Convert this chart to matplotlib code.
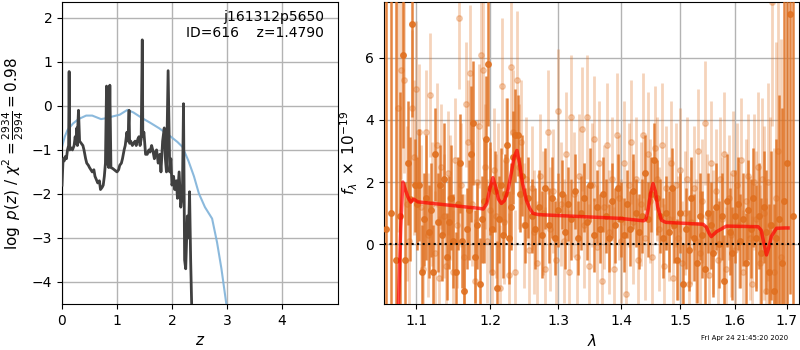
import numpy as np
import matplotlib
matplotlib.use("Agg")
import matplotlib.pyplot as plt
from matplotlib.ticker import FixedLocator, FixedFormatter, NullLocator

# ---------------- left panel data ----------------
pz_z = [0.00, 0.01, 0.02, 0.04, 0.06, 0.08, 0.10, 0.12, 0.13, 0.14, 0.16, 0.19, 0.22, 0.24, 0.25, 0.27, 0.28,
        0.29, 0.30, 0.32, 0.35, 0.38, 0.40, 0.43, 0.45, 0.48, 0.50, 0.55, 0.58, 0.60, 0.65, 0.68, 0.70, 0.73,
        0.75, 0.77, 0.79, 0.81, 0.83, 0.85, 0.87, 0.89, 0.92, 0.95, 1.00, 1.03, 1.05, 1.08, 1.10, 1.13,
        1.15, 1.18, 1.20, 1.22, 1.23, 1.25, 1.28, 1.30, 1.33, 1.35, 1.38, 1.40, 1.42, 1.44, 1.46, 1.47,
        1.49, 1.52, 1.55, 1.58, 1.60, 1.63, 1.65, 1.68, 1.70, 1.72, 1.75, 1.78, 1.80, 1.83, 1.86, 1.88,
        1.90, 1.93, 1.96, 1.98, 2.00, 2.03, 2.05, 2.08, 2.10, 2.13, 2.16, 2.19, 2.21, 2.23, 2.25, 2.28,
        2.30, 2.32, 2.34, 2.36, 2.38]
pz_logp = [-1.8, -1.5, -1.2, -1.25, -1.15, -1.2, -1.0, -0.9, 0.78, -1.0, -0.95, -1.0, -0.9, -0.7, -0.85, -0.5, -0.9,
           -0.4, -0.1, -0.8, -0.85, -0.9, -1.0, -1.2, -1.3, -1.35, -1.4, -1.5, -1.45, -1.6, -1.75, -1.7, -1.9, -1.85,
           -1.8, -1.6, -1.3, 0.45, -1.3, -1.4, 0.47, -1.4, -1.42, -1.45, -1.5, -1.45, -1.35, -1.3, -1.2, -1.0,
           -0.9, -0.6, -0.8, -0.1, -0.85, -0.8, -0.9, -0.85, -0.8, -0.9, -0.75, -0.7, -0.9, -0.75, 1.5, -0.7,
           -0.6, -1.1, -1.1, -1.0, -1.05, -0.9, -1.0, -1.2, -1.05, -1.0, -1.3, -1.1, -1.5, -0.8, -0.5, -1.2,
           -1.5, 0.8, -1.5, -1.2, -1.8, -1.6, -1.9, -1.7, -2.1, -1.5, -2.3, -2.0, 0.05, -3.5, -3.7, -2.5,
           -3.0, -1.95, -3.5, -4.6, -5.0]
prior_z = [0.00, 0.05, 0.10, 0.20, 0.30, 0.44, 0.55, 0.71, 0.80, 0.92, 1.05, 1.19, 1.30, 1.46, 1.60,
           1.77, 1.98, 2.10, 2.19, 2.30, 2.40, 2.49, 2.60, 2.73, 2.82, 2.90, 3.00]
prior_logp = [-0.93, -0.7, -0.55, -0.4, -0.3, -0.22, -0.22, -0.3, -0.28, -0.24, -0.2, -0.09, -0.15, -0.28, -0.38,
              -0.51, -0.70, -0.82, -0.93, -1.25, -1.6, -1.99, -2.3, -2.56, -3.1, -3.7, -4.6]

# ---------------- right panel data ----------------
dark_wave = [1.062, 1.068, 1.074, 1.079, 1.083, 1.086, 1.089, 1.092, 1.095, 1.098, 1.101, 1.104, 1.107, 1.110,
             1.113, 1.116, 1.119, 1.122, 1.125, 1.128, 1.131, 1.134, 1.137, 1.140, 1.143, 1.146, 1.149, 1.152,
             1.155, 1.158, 1.161, 1.164, 1.167, 1.170, 1.173, 1.176, 1.179, 1.182, 1.185, 1.188, 1.191, 1.194,
             1.197, 1.200, 1.203, 1.206, 1.209, 1.212, 1.215, 1.218, 1.221, 1.224, 1.227, 1.230, 1.233, 1.236,
             1.239, 1.242, 1.245, 1.250, 1.255, 1.260, 1.265, 1.270, 1.275, 1.280, 1.285, 1.290, 1.295, 1.300,
             1.305, 1.310, 1.315, 1.320, 1.325, 1.330, 1.335, 1.340, 1.345, 1.350, 1.355, 1.360, 1.365, 1.370,
             1.375, 1.380, 1.385, 1.390, 1.395, 1.400, 1.405, 1.410, 1.415, 1.420, 1.425, 1.430, 1.435, 1.440,
             1.445, 1.450, 1.455, 1.460, 1.465, 1.470, 1.475, 1.480, 1.485, 1.490, 1.495, 1.500, 1.505, 1.510,
             1.515, 1.520, 1.525, 1.530, 1.535, 1.540, 1.545, 1.550, 1.555, 1.560, 1.565, 1.570, 1.575, 1.580,
             1.585, 1.590, 1.595, 1.600, 1.605, 1.610, 1.615, 1.620, 1.625, 1.630, 1.635, 1.640, 1.645, 1.650,
             1.655, 1.660, 1.665, 1.670, 1.675, 1.680, 1.685, 1.690, 1.695, 1.700, 1.706, 1.712]
dark_flux = [0.5, 1.0, -0.5, 0.9, 6.1, -0.5, 2.6, 1.45, 7.1, 1.9, 1.3, 1.9, -0.9, 0.8,
             1.5, 0.4, 1.1, -0.9, 2.9, 0.7, 1.9, 0.3, 2.1, -0.4, 0.7, 1.5, 0.1, -0.9,
             1.3, 2.6, 0.1, -1.5, 0.5, 1.1, 2.9, 3.9, -0.4, 0.6, -1.3, 0.8, 1.4, 3.4,
             5.8, 1.8, 0.5, 1.7, -1.4, 0.8, 1.9, 0.3, 1.6, 3.2, 0.2, 1.2, 2.8, 3.5,
             3.5, 1.6, 2.2, 0.6, 1.5, 0.9, 0.5, 1.2, 0.3, 1.8, 0.6, 1.5, 0.2, 1.1,
             1.6, 0.4, 1.3, 0.8, 1.7, 0.2, 1.0, 1.5, 0.7, 1.9, 0.3, 1.2, 0.5, 1.6,
             0.9, 0.2, 1.4, 0.6, 1.8, 0.8, 0.3, 1.3, 0.5, 1.7, 1.0, 0.4, 0.9, 2.3,
             0.8, 1.6, 2.7, 1.5, 0.9, 0.2, 1.0, 0.4, 1.8, 0.6, -0.5, 1.0, -1.3, 0.5,
             -0.2, 1.5, 0.2, -0.6, 0.9, 0.3, -0.8, 1.0, 0.6, -0.3, 1.2, 0.0, 0.9, -1.2,
             1.4, 0.4, -0.3, 0.9, 1.3, 0.1, 0.8, -0.6, 1.1, 0.5, 1.5, 0.2, 0.9, -0.3,
             1.2, 0.4, -0.9, 0.6, -1.5, 0.2, 0.8, -0.6, 1.4, 2.6, 7.4, 0.9]
dark_err = [9, 9, 9, 4, 3, 2.5, 2, 2, 3, 1.5, 1.5, 1.8, 1.5, 1.5,
            2, 1.5, 1.5, 1.5, 1.5, 1.6, 1.3, 1.5, 1.8, 1.4, 1.5, 1.7, 1.5, 1.3,
            1.5, 1.6, 1.5, 1.5, 1.3, 1.6, 2.2, 2, 1.5, 1.4, 1.5, 1.4, 2, 2,
            2, 1.5, 1.5, 1.3, 1.5, 1.4, 1.2, 1.4, 1.3, 1.5, 1.5, 1.4, 1.5, 1.5,
            1.3, 1.2, 1.3, 1.2, 1.3, 1.2, 1.3, 1.2, 1.4, 1.3, 1.2, 1.3, 1.2, 1.2,
            1.1, 1.2, 1.2, 1.3, 1.2, 1.2, 1.2, 1.1, 1.2, 1.2, 1.2, 1.2, 1.1, 1.2,
            1.2, 1.1, 1.2, 1.2, 1.1, 1.2, 1.2, 1.1, 1.2, 1.2, 1.1, 1.2, 1.2, 1.2,
            1.2, 1.2, 1.2, 1.2, 1.2, 1.3, 1.2, 1.3, 1.3, 1.2, 1.3, 1.3, 1.3, 1.3,
            1.3, 1.3, 1.4, 1.3, 1.4, 1.4, 1.4, 1.3, 1.4, 1.4, 1.4, 1.4, 1.4, 1.5,
            1.5, 1.4, 1.5, 1.5, 1.5, 1.5, 1.5, 1.6, 1.6, 1.6, 1.6, 1.7, 1.7, 1.8,
            1.8, 2.0, 2.2, 2.4, 2.8, 3.2, 4, 5, 7, 9, 9, 9]

light_wave = [1.076, 1.080, 1.084, 1.088, 1.091, 1.094, 1.097, 1.100, 1.103, 1.106, 1.109, 1.112, 1.115, 1.118,
              1.121, 1.124, 1.127, 1.130, 1.133, 1.136, 1.139, 1.142, 1.145, 1.148, 1.151, 1.154, 1.157, 1.160,
              1.163, 1.166, 1.169, 1.172, 1.175, 1.178, 1.181, 1.184, 1.187, 1.190, 1.193, 1.196, 1.199, 1.202,
              1.205, 1.208, 1.211, 1.214, 1.217, 1.220, 1.223, 1.226, 1.229, 1.232, 1.235, 1.238, 1.241, 1.244,
              1.248, 1.252, 1.256, 1.260, 1.264, 1.268, 1.272, 1.276, 1.280, 1.284, 1.288, 1.292, 1.296, 1.300,
              1.304, 1.308, 1.312, 1.316, 1.320, 1.324, 1.328, 1.332, 1.336, 1.340, 1.344, 1.348, 1.352, 1.356,
              1.360, 1.364, 1.368, 1.372, 1.376, 1.380, 1.384, 1.388, 1.392, 1.396, 1.400, 1.404, 1.408, 1.412,
              1.416, 1.420, 1.424, 1.428, 1.432, 1.436, 1.440, 1.444, 1.448, 1.452, 1.456, 1.460, 1.464, 1.468,
              1.472, 1.476, 1.480, 1.484, 1.488, 1.492, 1.496, 1.500, 1.504, 1.508, 1.512, 1.516, 1.520, 1.524,
              1.528, 1.532, 1.536, 1.540, 1.544, 1.548, 1.552, 1.556, 1.560, 1.564, 1.568, 1.572, 1.576, 1.580,
              1.584, 1.588, 1.592, 1.596, 1.600, 1.604, 1.608, 1.612, 1.616, 1.620, 1.624, 1.628, 1.632, 1.636,
              1.640, 1.644, 1.648, 1.652, 1.656, 1.660, 1.664, 1.668, 1.672, 1.676, 1.680, 1.684, 1.688]
light_flux = [4.4, 5.6, 5.3, 1.3, 0.1, 4.4, 2.8, 5.0, 3.6, 1.2, -0.8, 3.6, 0.3, 4.8,
              1.3, -0.3, 3.2, -1.1, 2.5, 0.9, -0.7, 2.3, 1.5, -0.9, 2.7, 0.6, 7.3, 1.9,
              -0.4, 4.5, 3.3, 5.5, 1.3, -1.2, 2.0, 3.8, 6.1, 5.6, 2.5, 0.1, 1.1, -0.9,
              2.4, 0.9, 1.9, -1.4, 5.1, 0.7, 2.7, -1.0, 5.7, 3.6, -0.9, 5.3, 2.5, 3.3,
              0.6, 2.1, -0.2, 1.8, 0.4, -0.6, 2.2, 1.0, -0.8, 3.6, 0.5, 1.7, -0.5, 4.3,
              1.3, 0.1, 2.9, -0.9, 4.1, 1.6, -0.4, 2.2, 3.7, 0.6, 4.1, -0.7, 1.9, 3.4,
              -0.1, 2.6, -1.2, 1.2, 3.2, 0.4, 2.1, -0.8, 3.5, 1.5, 0.1, 2.6, -1.6, 1.9,
              3.3, 0.7, 2.1, -0.5, 1.3, 3.5, 0.2, 2.9, 1.4, -0.4, 3.1, 2.1, 0.5, 3.2,
              -0.7, 1.8, 0.8, 2.6, -1.1, 1.9, 0.2, 2.4, -0.6, 1.0, 2.1, -1.3, 0.7, 1.8,
              0.1, 3.0, -0.3, 1.4, 3.9, 0.9, -1.0, 2.6, 0.4, 1.7, -0.5, 2.1, 0.8, 2.9,
              -0.8, 1.5, 0.3, 2.3, -0.2, 1.9, 0.6, 2.7, -0.9, 1.4, 2.2, 0.2, -1.3, 2.0,
              0.8, 2.5, -0.6, 2.1, 1.0, -1.5, 2.0, 0.6, 7.8, -0.9, 1.5, 3.0, -0.4]
light_err = [4, 3.5, 3, 2.5, 2.5, 2.5, 2.5, 2.2, 2.2, 2, 2, 2, 2, 2,
             2, 2, 2, 2, 2, 2, 2, 2, 2, 2, 2, 2, 2.3, 2,
             2, 2, 2, 2.2, 2, 2, 2, 2, 2.2, 2.2, 2, 2, 2, 2,
             2, 2, 2, 2, 2.2, 2, 2, 2, 2.2, 2, 2, 2.2, 2, 2,
             2, 2, 2, 2, 2, 2, 2, 2, 2, 2, 2, 2, 2, 2,
             2, 2, 2, 2, 2, 2, 2, 2, 2, 2, 2, 2, 2, 2,
             2, 2, 2, 2, 2, 2, 2, 2, 2, 2, 2, 2, 2, 2,
             2, 2, 2, 2, 2, 2, 2, 2, 2, 2, 2, 2, 2, 2,
             2, 2, 2, 2, 2, 2, 2, 2, 2, 2, 2, 2, 2, 2,
             2, 2, 2, 2, 2, 2, 2, 2, 2, 2, 2, 2, 2, 2,
             2, 2, 2, 2, 2, 2, 2, 2, 2, 2, 2, 2, 2.2, 2.2,
             2.2, 2.4, 2.5, 2.6, 2.8, 3, 3.2, 3.5, 4, 4, 5, 6, 7]

model_wave = [1.0765, 1.0800, 1.0827, 1.0860, 1.0892, 1.0930, 1.0965, 1.1021, 1.185, 1.190, 1.195, 1.199,
              1.2037, 1.208, 1.2115, 1.2157, 1.2200, 1.2252, 1.230, 1.234, 1.2382, 1.242, 1.246, 1.252,
              1.2570, 1.2617, 1.270, 1.300, 1.397, 1.437, 1.441, 1.445, 1.449, 1.453, 1.457, 1.461,
              1.4675, 1.475, 1.541, 1.547, 1.552, 1.556, 1.5656, 1.584, 1.644, 1.650, 1.655, 1.6604,
              1.665, 1.670, 1.680, 1.6965, 1.703]
model_flux = [-2.5, 0.5, 2.0, 1.75, 1.52, 1.35, 1.45, 1.36, 1.15, 1.13, 1.3, 1.75,
              2.14, 1.8, 1.45, 1.31, 1.4, 1.74, 2.3, 2.8, 3.02, 2.6, 2.0, 1.41,
              1.15, 0.99, 0.95, 0.92, 0.83, 0.75, 0.8, 1.15, 1.65, 1.95, 1.7, 1.2,
              0.77, 0.7, 0.64, 0.55, 0.35, 0.24, 0.40, 0.58, 0.56, 0.45, 0.05, -0.35,
              -0.1, 0.25, 0.51, 0.52, 0.52]

xticks_right = [1.1, 1.2, 1.3, 1.4, 1.5, 1.6, 1.7]
xtick_labels_right = ["1.1", "1.2", "1.3", "1.4", "1.5", "1.6", "1.7"]

# ---------------- figure ----------------
fig = plt.figure(figsize=(8, 3.5), dpi=100)
ax1 = fig.add_axes([0.0775, 0.1314, 0.345, 0.8629])
ax2 = fig.add_axes([0.48, 0.1314, 0.519, 0.8629])

# left panel
ax1.plot(prior_z, prior_logp, color="#7fb2d9", lw=1.5, alpha=0.9, zorder=2)
ax1.plot(pz_z, pz_logp, color="0.25", lw=2, zorder=3)
ax1.set_xlim(0, 5.02)
ax1.set_ylim(-4.5, 2.36)
ax1.set_xticks([0, 1, 2, 3, 4])
ax1.set_yticks([-4, -3, -2, -1, 0, 1, 2])
ax1.grid(True, color="0.7", lw=1)
ax1.set_axisbelow(True)
ax1.set_xlabel(r"$z$", fontsize=11)
ax1.set_ylabel(r"$\log\ p(z)$ / $\chi^2=\frac{2934}{2994}=0.98$", fontsize=11)
ax1.text(0.95, 0.975, "j161312p5650\nID=616    z=1.4790", transform=ax1.transAxes,
         ha="right", va="top", fontsize=10, linespacing=1.2)
ax1.tick_params(labelsize=10)

# right panel
col = "#e07020"
ax2.errorbar(light_wave, light_flux, yerr=light_err, fmt="o", color=col, alpha=0.3,
             ms=4, elinewidth=2, capsize=0, zorder=2)
ax2.errorbar(dark_wave, dark_flux, yerr=dark_err, fmt="o", color=col, alpha=0.85,
             ms=4, elinewidth=1.8, capsize=0, zorder=3)
ax2.plot(model_wave, model_flux, color="red", lw=2.5, alpha=0.7, zorder=5)
ax2.axhline(0, color="k", ls=":", lw=1.5, zorder=6)
ax2.set_xscale("log")
ax2.set_xlim(1.059, 1.7255)
ax2.set_ylim(-1.93, 7.8)
ax2.xaxis.set_major_locator(FixedLocator(xticks_right))
ax2.xaxis.set_major_formatter(FixedFormatter(xtick_labels_right))
ax2.xaxis.set_minor_locator(NullLocator())
ax2.set_yticks([0, 2, 4, 6])
ax2.grid(True, color="0.7", lw=1)
ax2.set_axisbelow(True)
ax2.set_xlabel(r"$\lambda$", fontsize=11)
ax2.set_ylabel(r"$f_\lambda\ \times\ 10^{-19}$", fontsize=11)
ax2.tick_params(labelsize=10)

fig.text(0.985, 0.025, "Fri Apr 24 21:45:20 2020", ha="right", va="bottom", fontsize=5)

fig.savefig("out.png", dpi=100)
